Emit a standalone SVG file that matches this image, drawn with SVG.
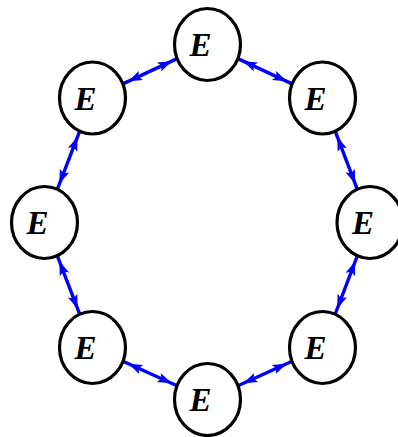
<svg xmlns="http://www.w3.org/2000/svg" xmlns:xlink="http://www.w3.org/1999/xlink" width="398" height="437" viewBox="0 0 398 437">
<style>
.node ellipse{fill:#fff;stroke:#000;stroke-width:3.2}
.node text{font-family:"Liberation Serif","Times New Roman",serif;font-weight:bold;font-style:italic;font-size:33px;text-anchor:middle;fill:#000}
.edge{stroke:#0000ff;stroke-width:3.4;fill:none}
.ah{fill:#0000ff}
</style>
<defs>
<path id="ah" class="ah" d="M0,0 L-14,-5 L-11,0 L-14,5 Z"/>
</defs>
<rect width="398" height="437" fill="#fff"/>
<g id="connectors">
<line class="edge" x1="237.85" y1="58.62" x2="292.15" y2="83.88"/>
<use xlink:href="#ah" transform="translate(243.29,61.15) rotate(204.95)"/>
<use xlink:href="#ah" transform="translate(286.71,81.35) rotate(24.95)"/>
<line class="edge" x1="335.18" y1="131.23" x2="357.32" y2="189.27"/>
<use xlink:href="#ah" transform="translate(337.32,136.84) rotate(249.12)"/>
<use xlink:href="#ah" transform="translate(355.18,183.66) rotate(69.12)"/>
<line class="edge" x1="357.36" y1="255.76" x2="335.14" y2="314.24"/>
<use xlink:href="#ah" transform="translate(355.23,261.37) rotate(290.8)"/>
<use xlink:href="#ah" transform="translate(337.27,308.63) rotate(110.8)"/>
<line class="edge" x1="292.01" y1="361.29" x2="237.99" y2="385.71"/>
<use xlink:href="#ah" transform="translate(286.54,363.76) rotate(335.67)"/>
<use xlink:href="#ah" transform="translate(243.46,383.24) rotate(155.67)"/>
<line class="edge" x1="177.01" y1="385.71" x2="122.99" y2="361.29"/>
<use xlink:href="#ah" transform="translate(171.54,383.24) rotate(24.33)"/>
<use xlink:href="#ah" transform="translate(128.46,363.76) rotate(204.33)"/>
<line class="edge" x1="79.75" y1="314.30" x2="57.25" y2="255.70"/>
<use xlink:href="#ah" transform="translate(77.6,308.7) rotate(69.0)"/>
<use xlink:href="#ah" transform="translate(59.40,261.30) rotate(249.0)"/>
<line class="edge" x1="57.29" y1="189.31" x2="79.71" y2="131.19"/>
<use xlink:href="#ah" transform="translate(59.45,183.71) rotate(111.08)"/>
<use xlink:href="#ah" transform="translate(77.55,136.79) rotate(291.08)"/>
<line class="edge" x1="122.85" y1="83.88" x2="177.15" y2="58.62"/>
<use xlink:href="#ah" transform="translate(128.29,81.35) rotate(155.05)"/>
<use xlink:href="#ah" transform="translate(171.71,61.15) rotate(-24.95)"/>
</g>
<g id="n-top" class="node"><ellipse cx="207.5" cy="44.5" rx="33" ry="36"/><text x="200.5" y="56">E</text></g>
<g id="n-topright" class="node"><ellipse cx="322.5" cy="98" rx="33" ry="36"/><text x="315.5" y="109.5">E</text></g>
<g id="n-right" class="node"><ellipse cx="370" cy="222.5" rx="33" ry="36"/><text x="363" y="234">E</text></g>
<g id="n-bottomright" class="node"><ellipse cx="322.5" cy="347.5" rx="33" ry="36"/><text x="315.5" y="359">E</text></g>
<g id="n-bottom" class="node"><ellipse cx="207.5" cy="399.5" rx="33" ry="36"/><text x="200.5" y="411">E</text></g>
<g id="n-bottomleft" class="node"><ellipse cx="92.5" cy="347.5" rx="33" ry="36"/><text x="85.5" y="359">E</text></g>
<g id="n-left" class="node"><ellipse cx="44.5" cy="222.5" rx="33" ry="36"/><text x="37.5" y="234">E</text></g>
<g id="n-topleft" class="node"><ellipse cx="92.5" cy="98" rx="33" ry="36"/><text x="85.5" y="109.5">E</text></g>
</svg>
